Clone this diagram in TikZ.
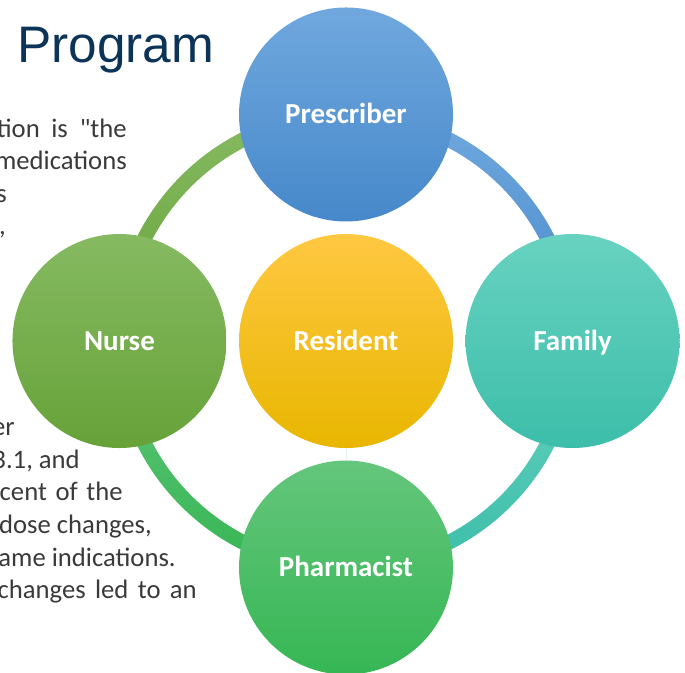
\documentclass[tikz,border=0pt]{standalone}
\usepackage{fontspec}
\setmainfont{Carlito}[Ligatures=TeXOff]
\newfontfamily\headfont{Liberation Sans}
\usetikzlibrary{positioning, backgrounds}

\definecolor{headnavy}{RGB}{12,52,88}
\definecolor{bodygray}{RGB}{58,58,58}
\definecolor{preTop}{RGB}{112,168,222}
\definecolor{preBot}{RGB}{70,136,202}
\definecolor{famTop}{RGB}{104,210,192}
\definecolor{famBot}{RGB}{60,190,170}
\definecolor{phaTop}{RGB}{100,198,124}
\definecolor{phaBot}{RGB}{54,182,84}
\definecolor{nurTop}{RGB}{134,186,98}
\definecolor{nurBot}{RGB}{102,162,56}
\definecolor{resTop}{RGB}{255,200,66}
\definecolor{resBot}{RGB}{232,182,0}

\begin{document}
\begin{tikzpicture}[
  x=0.75pt, y=-0.75pt,
  node distance=9pt,
  member/.style={circle, minimum size=160.5pt, inner sep=0pt, text=white,
    text height=14pt, text depth=0pt,
    font=\fontsize{21.75}{26}\selectfont\bfseries},
  body/.style={anchor=base east, inner sep=0pt, text=bodygray,
    font=\fontsize{20}{24}\selectfont}
]
\useasboundingbox (0,0) rectangle (685,672);
\clip (0,0) rectangle (685,672);

% heading and the text running beside the cycle
\node[anchor=base west, inner sep=0pt, text=headnavy,
  font=\headfont\fontsize{38.5}{46}\selectfont] (head) at (17,62) {Program};
\node[body] (t1) at (127,137) {tion\hspace{8.6pt}is\hspace{9pt}"the};
\node[body] (t2) at (127,169) {medications};
\node[body] (t3) at (7,202) {s};
\node[body] (t4) at (6,234) {,};
\node[body] (b1) at (15,435) {er};
\node[body] (b2) at (80,468) {3.1, and};
\node[body] (b3) at (123,500) {cent\hspace{2pt} of\hspace{2pt} the};
\node[body] (b4) at (152,533) {dose changes,};
\node[body] (b5) at (176,566) {ame indications.};
\node[body] (b6) at (197,598) {changes\hspace{2.5pt} led\hspace{2.5pt} to\hspace{2.5pt} an};

% the five roles
\node[member, top color=resTop, bottom color=resBot] (res) at (346,341) {Resident};
\node[member, top color=preTop, bottom color=preBot, above=of res] (pre) {Prescriber};
\node[member, top color=famTop, bottom color=famBot, right=of res] (fam) {Family};
\node[member, top color=phaTop, bottom color=phaBot, below=of res] (pha) {Pharmacist};
\node[member, top color=nurTop, bottom color=nurBot, left=of res] (nur) {Nurse};

% ring pieces, each in the colour of the role it leaves
\begin{scope}[on background layer]
  \foreach \from/\to/\hi/\lo in {nur/pre/nurTop/nurBot, pre/fam/preTop/preBot,
      fam/pha/famTop/famBot, pha/nur/phaTop/phaBot} {
    \begin{scope}
      \clip (\from.center) rectangle (\to.center);
      \clip (res.center) circle[radius=175.1pt];
      \shade[top color=\hi, bottom color=\lo] (\from.center) rectangle (\to.center);
      \fill[white] (res.center) circle[radius=163.9pt];
    \end{scope}
  }
\end{scope}
\end{tikzpicture}
\end{document}
